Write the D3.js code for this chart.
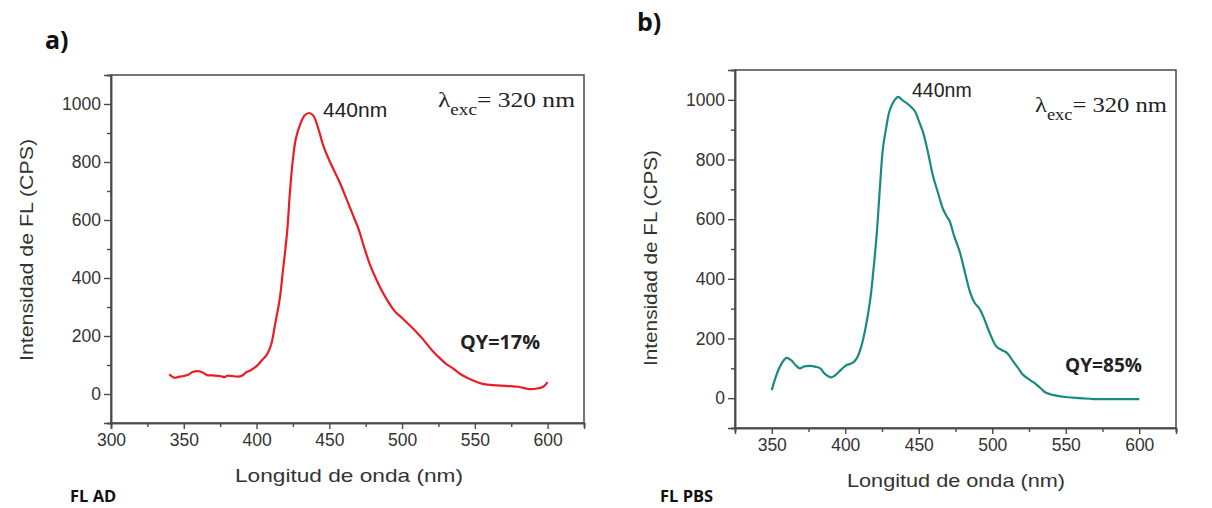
<!DOCTYPE html>
<html>
<head>
<meta charset="utf-8">
<script src="https://cdn.jsdelivr.net/npm/d3@7"></script>
<style>
  html, body { margin: 0; padding: 0; background: #ffffff; }
  svg { display: block; }
</style>
</head>
<body>
<svg id="chart" width="1212" height="508"></svg>
<script>
// ---------- DATA ----------
const wavelengthA = [340,342,344,347,350,353,356,360,363,366,370,375,378,380,383,387,390,393,396,400,404,407,410,413,416,418,421,423,425,427,430,433,436,439,442,446,450,454,458,462,466,470,474,478,482,486,490,495,500,505,510,515,521,525,530,535,540,548,556,565,574,580,587,592,597,600];
const intensityA  = [68,60,56,60,62,66,76,79,74,65,64,62,58,63,62,60,63,75,82,96,118,135,170,247,330,419,557,700,810,880,930,960,969,960,922,855,805,763,720,670,620,570,505,445,398,357,322,285,262,238,213,185,148,128,105,88,69,48,34,30,27,25,17,18,25,41];

const wavelengthB = [350,353,356,360,363,366,369,372,376,380,383,386,390,393,397,401,405,408,411,414,417,419,421.5,423.5,425.6,428,430,433,436,439,442,445,447.5,450,453,456,459.7,463,466.5,469,471,474,478,481,485,488,491.7,495,499,503,507,510,514,518,521,526,530.5,534,537,542,551,560,569,580,590,600];
const intensityB  = [27,75,110,135,128,112,100,106,108,105,100,82,70,76,95,111,118,135,175,240,330,421,556,700,836,910,961,995,1010,998,988,975,961,930,890,830,745,690,634,610,594,545,489,430,354,320,297,260,210,172,160,152,125,98,78,60,44,28,17,10,3,0,-3,-3,-3,-3];

const xTicksA = [300,350,400,450,500,550,600];
const xMinorA = [325,375,425,475,525,575,625];
const xTicksB = [350,400,450,500,550,600];
const xMinorB = [325,375,425,475,525,575,625];
const yTicks  = [0,200,400,600,800,1000];
const yMinor  = [-100,100,300,500,700,900,1100];

const xTitle = "Longitud de onda (nm)";
const yTitle = "Intensidad de FL (CPS)";

// ---------- LAYOUT ----------
const svg = d3.select("#chart");

const panels = [
  {
    x: wavelengthA, y: intensityA, color: "#ec1c24",
    xDomain: [300, 625], xTicks: xTicksA, xMinor: xMinorA,
    left: 111, top: 75, right: 584, bottom: 423,
    tickFont: 17.5,
    letter: "a)", letterX: 45, letterY: 49,
    foot: "FL AD", footX: 70, footY: 502,
    xTitleX: 349, xTitleY: 482, xTitleLen: 228,
    yTitleX: 33, yTitleY: 250, yTitleLen: 222,
    peak: {x: 323, y: 117, size: 21},
    lam: {x: 438, y: 107, size: 21, len: 137},
    qy: {text: "QY=17%", x: 460, y: 349, len: 80}
  },
  {
    x: wavelengthB, y: intensityB, color: "#1a8a80",
    xDomain: [325, 625], xTicks: xTicksB, xMinor: xMinorB,
    left: 735, top: 70, right: 1176, bottom: 428,
    tickFont: 17.5,
    letter: "b)", letterX: 637, letterY: 31,
    foot: "FL PBS", footX: 660, footY: 502,
    xTitleX: 956, xTitleY: 487, xTitleLen: 218,
    yTitleX: 657, yTitleY: 258, yTitleLen: 216,
    peak: {x: 912, y: 97, size: 19.5},
    lam: {x: 1035, y: 112, size: 21, len: 132},
    qy: {text: "QY=85%", x: 1065, y: 372, len: 77}
  }
];

panels.forEach(p => {
  const g = svg.append("g");
  const x = d3.scaleLinear().domain(p.xDomain).range([p.left, p.right]);
  const y = d3.scaleLinear().domain([-100, 1100]).range([p.bottom, p.top]);

  // frame
  g.append("rect")
    .attr("x", p.left).attr("y", p.top)
    .attr("width", p.right - p.left).attr("height", p.bottom - p.top)
    .attr("fill", "#ffffff").attr("stroke", "#4a4a4a").attr("stroke-width", 1.5);

  // axes - major and minor
  const xAxis = d3.axisBottom(x).tickValues(p.xTicks).tickSize(6).tickPadding(5).tickFormat(d3.format("d"));
  const yAxis = d3.axisLeft(y).tickValues(yTicks).tickSize(7).tickPadding(3).tickFormat(d3.format("d"));
  const xMin = d3.axisBottom(x).tickValues(p.xMinor).tickSize(4).tickFormat("");
  const yMin = d3.axisLeft(y).tickValues(yMinor).tickSize(4).tickFormat("");

  [[xAxis, `translate(0,${p.bottom})`], [xMin, `translate(0,${p.bottom})`],
   [yAxis, `translate(${p.left},0)`], [yMin, `translate(${p.left},0)`]].forEach(([ax, tr]) => {
    const a = g.append("g").attr("transform", tr).call(ax);
    a.select(".domain").attr("stroke", "#4a4a4a").attr("stroke-width", 1.5);
    a.selectAll(".tick line").attr("stroke", "#4a4a4a").attr("stroke-width", 1.4);
    a.selectAll(".tick text")
      .attr("fill", "#333")
      .style("font-family", "'Liberation Sans', Arial, sans-serif")
      .style("font-size", p.tickFont + "px");
  });

  // curve
  const line = d3.line()
    .x((d, i) => x(p.x[i]))
    .y((d, i) => y(p.y[i]))
    .curve(d3.curveCatmullRom.alpha(0.5));
  g.append("path")
    .datum(p.y)
    .attr("d", line)
    .attr("fill", "none")
    .attr("stroke", p.color)
    .attr("stroke-width", 2.2)
    .attr("stroke-linejoin", "round");

  // axis titles
  g.append("text")
    .attr("x", p.xTitleX).attr("y", p.xTitleY)
    .attr("text-anchor", "middle")
    .attr("textLength", p.xTitleLen).attr("lengthAdjust", "spacingAndGlyphs")
    .style("font-family", "'Liberation Sans', Arial, sans-serif")
    .style("font-size", "18.5px").attr("fill", "#333")
    .text(xTitle);

  g.append("text")
    .attr("transform", `translate(${p.yTitleX},${p.yTitleY}) rotate(-90)`)
    .attr("text-anchor", "middle")
    .attr("textLength", p.yTitleLen).attr("lengthAdjust", "spacingAndGlyphs")
    .style("font-family", "'Liberation Sans', Arial, sans-serif")
    .style("font-size", "18px").attr("fill", "#333")
    .text(yTitle);

  // panel letter
  g.append("text")
    .attr("x", p.letterX).attr("y", p.letterY)
    .style("font-family", "'Open Sans', sans-serif")
    .style("font-weight", "bold").style("font-size", "25px").attr("fill", "#111")
    .text(p.letter);

  // footer
  g.append("text")
    .attr("x", p.footX).attr("y", p.footY)
    .style("font-family", "'Open Sans', sans-serif")
    .style("font-weight", "bold").style("font-size", "16.5px").attr("fill", "#111")
    .text(p.foot);

  // peak label
  g.append("text")
    .attr("x", p.peak.x).attr("y", p.peak.y)
    .style("font-family", "'Liberation Sans', Arial, sans-serif")
    .style("font-size", p.peak.size + "px").attr("fill", "#222")
    .text("440nm");

  // lambda exc
  const lt = g.append("text")
    .attr("x", p.lam.x).attr("y", p.lam.y)
    .attr("textLength", p.lam.len).attr("lengthAdjust", "spacingAndGlyphs")
    .style("font-family", "'Liberation Serif', 'Times New Roman', serif")
    .style("font-size", p.lam.size + "px").attr("fill", "#222");
  lt.append("tspan").text("λ");
  lt.append("tspan").attr("dy", 8).style("font-size", (p.lam.size * 0.75) + "px").text("exc");
  lt.append("tspan").attr("dy", -8).text("= 320 nm");

  // QY
  g.append("text")
    .attr("x", p.qy.x).attr("y", p.qy.y)
    .attr("textLength", p.qy.len).attr("lengthAdjust", "spacingAndGlyphs")
    .style("font-family", "'Open Sans', sans-serif")
    .style("font-weight", "bold").style("font-size", "19px").attr("fill", "#222")
    .text(p.qy.text);
});
</script>
</body>
</html>
